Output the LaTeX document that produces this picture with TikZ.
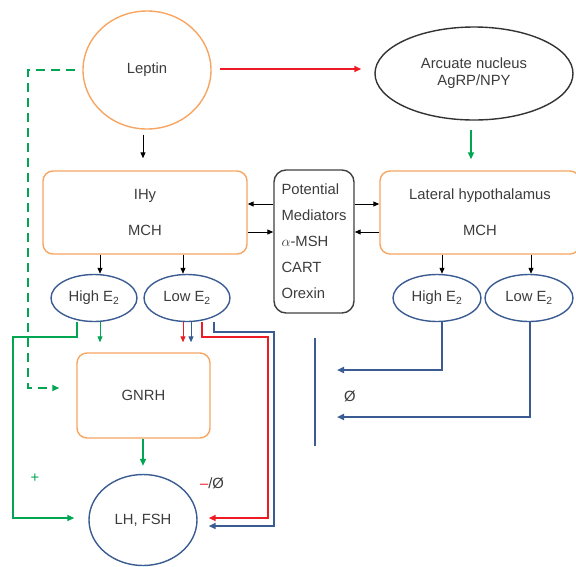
\documentclass[tikz,border=0pt]{standalone}
\usepackage{fontspec}
\setmainfont{Liberation Sans}
\usetikzlibrary{shapes.geometric,arrows.meta}
\definecolor{lorange}{RGB}{248,165,98}
\definecolor{eblue}{RGB}{58,92,146}
\definecolor{egreen}{RGB}{0,166,81}
\definecolor{ered}{RGB}{237,28,36}
\definecolor{txtgray}{RGB}{60,60,60}
\begin{document}
\begin{tikzpicture}[x=1pt,y=-1pt,
    every node/.style={font=\fontsize{14.8}{17}\selectfont,text=txtgray},
    obox/.style={draw=lorange,line width=1.4pt,rounded corners=10pt},
    bell/.style={ellipse,draw=eblue,line width=1.4pt,inner sep=0pt},
    arr/.style={-{Triangle[length=6pt,width=5pt]},line width=1pt},
    thk/.style={-{Triangle[length=7pt,width=6pt]},line width=2.2pt}]
  \useasboundingbox (0,0) rectangle (576,566);
  % top row
  \node[ellipse,draw=lorange,line width=1.4pt,minimum width=128pt,minimum height=118pt] (leptin) at (147,70) {Leptin};
  \node[ellipse,draw=black!80,line width=1.4pt,minimum width=198pt,minimum height=93pt,align=center] (arcuate) at (474,73.5) {Arcuate nucleus\\AgRP/NPY};
  % hypothalamus boxes
  \node[obox,minimum width=204pt,minimum height=83pt,align=center] (ihy) at (145,212.5) {IHy\\[19pt]MCH};
  \node[obox,minimum width=200pt,minimum height=83pt,align=center] (lateral) at (480,212.5) {Lateral hypothalamus\\[19pt]MCH};
  \node[draw=black!75,line width=1.4pt,rounded corners=12pt,minimum width=80pt,minimum height=143pt,align=left,font=\fontsize{14.8}{26}\selectfont] (potential) at (314,241.5) {Potential\\Mediators\\$\alpha$-MSH\\CART\\Orexin};
  % estradiol states
  \node[bell,minimum width=86pt,minimum height=47pt] (hiL) at (94,298) {High E\textsubscript{2}};
  \node[bell,minimum width=86pt,minimum height=47pt] (loL) at (187,298) {Low E\textsubscript{2}};
  \node[bell,minimum width=88pt,minimum height=47pt] (hiR) at (437,298) {High E\textsubscript{2}};
  \node[bell,minimum width=88pt,minimum height=47pt] (loR) at (529,298) {Low E\textsubscript{2}};
  % axis
  \node[obox,minimum width=133pt,minimum height=85pt] (gnrh) at (143.5,395.5) {GNRH};
  \node[bell,minimum width=108pt,minimum height=91pt] (lhfsh) at (143,520) {LH, FSH};
  % labels
  \node[text=egreen] (plus) at (35,478) {+};
  \node (minus) at (212,483) {\textcolor{ered}{--}/Ø};
  \node (empty) at (350,396) {Ø};

  \draw[arr,shorten <=5pt,shorten >=12pt] (143,0 |- leptin.south) -- (143,0 |- ihy.north);
  \draw[thk,ered,shorten <=8pt,shorten >=13pt] (leptin.east |- 0,69) -- (arcuate.west |- 0,69);
  \draw[thk,egreen,shorten <=9pt,shorten >=11pt] (471,0 |- arcuate.south) -- (471,0 |- lateral.north);
  \draw[thk,egreen,dashed,dash pattern=on 9pt off 6pt] ([xshift=-7pt]leptin.west) -- (28,70) |- ([xshift=-17pt,yshift=7.5pt]gnrh.west);
  % mediators
  \draw[arr] (potential.west |- 0,204) -- (ihy.east |- 0,204);
  \draw[arr] (ihy.east |- 0,232) -- (potential.west |- 0,232);
  \draw[arr] (potential.east |- 0,204) -- (lateral.west |- 0,204);
  \draw[arr] (lateral.west |- 0,232) -- (potential.east |- 0,232);
  \draw[arr] (100,0 |- ihy.south) -- (100,0 |- hiL.north);
  \draw[arr] (183,0 |- ihy.south) -- (183,0 |- loL.north);
  \draw[arr] (442,0 |- lateral.south) -- (442,0 |- hiR.north);
  \draw[arr] (531,0 |- lateral.south) -- (531,0 |- loR.north);
  % to GNRH and LH/FSH
  \draw[arr,egreen,shorten >=10pt] (100,0 |- hiL.south) -- (100,0 |- gnrh.north);
  \draw[arr,ered,shorten >=10pt] (183,0 |- loL.south) -- (183,0 |- gnrh.north);
  \draw[arr,eblue,shorten >=10pt] (191,0 |- loL.south) -- (191,0 |- gnrh.north);
  \draw[thk,egreen,shorten >=8pt] (gnrh.south -| 143,0) -- (lhfsh.north);
  \draw[thk,egreen,shorten >=14pt] (77,0 |- hiL.south) -- (77,337) -| (13,518) -- (lhfsh.west |- 0,518);
  \draw[thk,ered,shorten >=11pt] (202,0 |- loL.south) -- (202,337) -| (268,518) -- (lhfsh.east |- 0,518);
  \draw[thk,eblue,shorten >=11pt] (214,0 |- loL.south) -- (214,332) -| (274,526) -- (lhfsh.east |- 0,526);
  \draw[thk,eblue] (442,0 |- hiR.south) |- (337,370);
  \draw[thk,eblue] (530,0 |- loR.south) |- (337,417);
  \draw[eblue,line width=1.4pt] (315,338) -- (315,446);
\end{tikzpicture}
\end{document}
